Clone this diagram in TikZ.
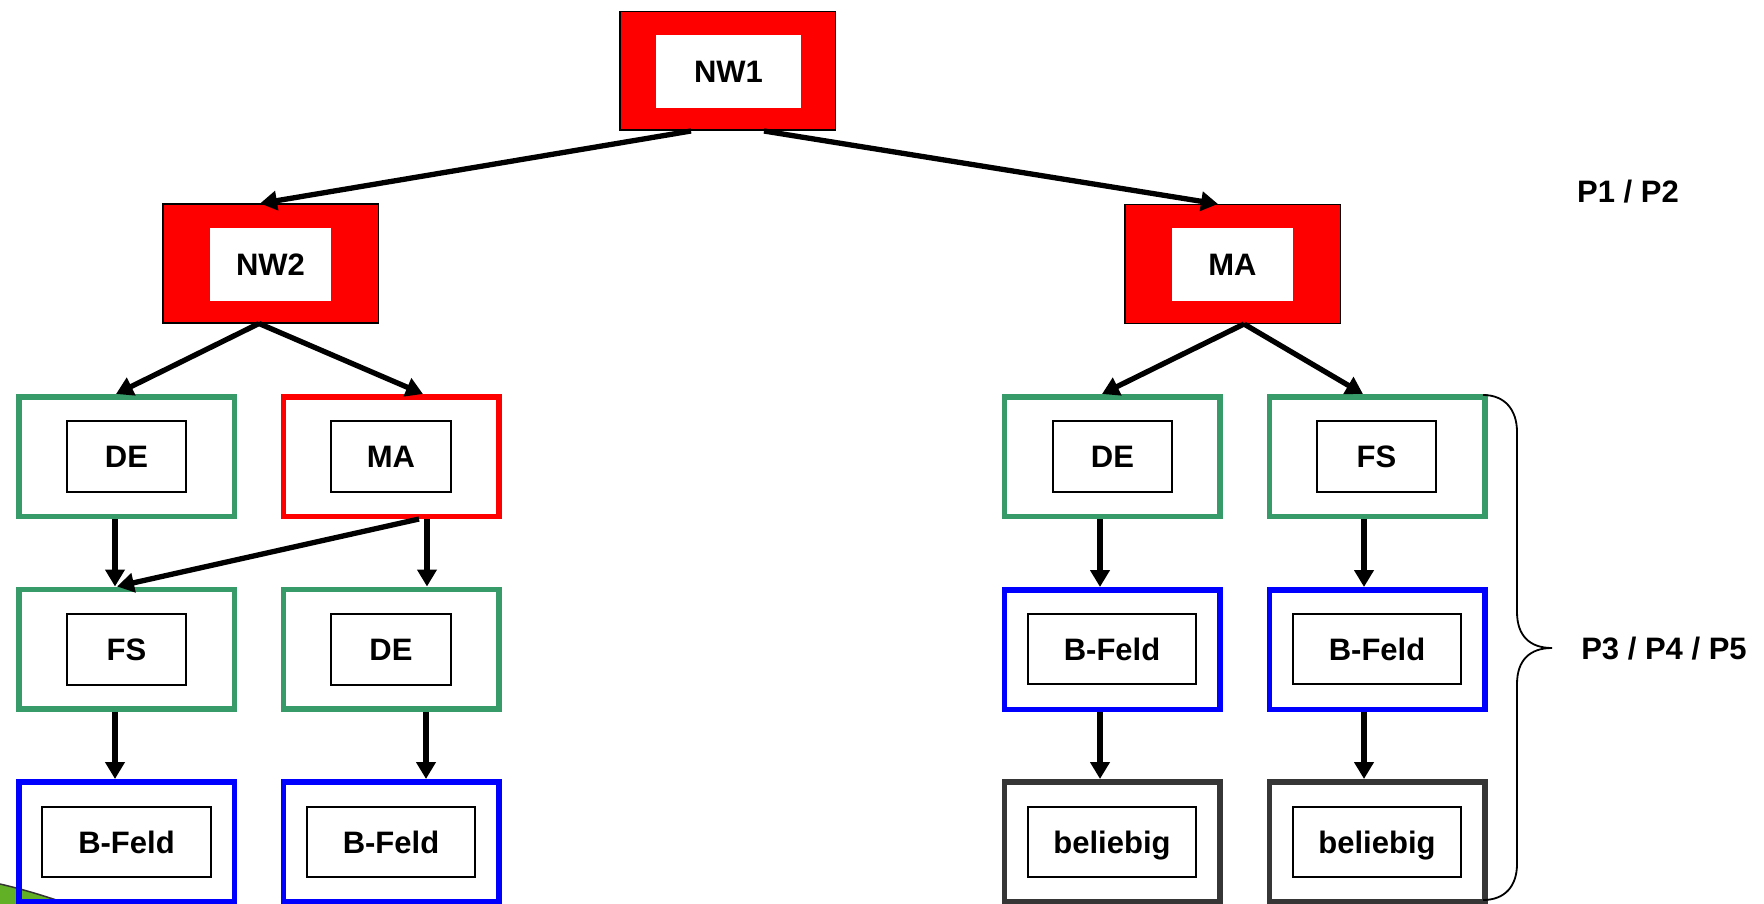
\documentclass[tikz,border=0pt]{standalone}
\usepackage{fontspec}
\setmainfont{Liberation Sans}
\usetikzlibrary{arrows.meta}
\definecolor{gborder}{RGB}{54,155,104}
\definecolor{bborder}{RGB}{0,0,255}
\definecolor{dborder}{RGB}{54,54,54}
\definecolor{leaf}{RGB}{98,176,38}
\tikzset{
  lab/.style={font=\bfseries\fontsize{31}{37}\selectfont, text height=22pt, text depth=0pt},
  redbox/.style={rectangle, fill=red, draw=black, line width=1.5pt, inner sep=0pt,
                 minimum width=215.5pt, minimum height=118.5pt},
  redin/.style={rectangle, fill=white, inner sep=0pt, minimum width=121pt, minimum height=73pt, lab},
  cbox/.style={rectangle, line width=5.5pt, inner sep=0pt, minimum width=215.5pt, minimum height=119.5pt},
  gbox/.style={cbox, draw=gborder},
  bbox/.style={cbox, draw=bborder},
  dbox/.style={cbox, draw=dborder},
  rbox/.style={cbox, draw=red},
  inbox/.style={rectangle, draw=black, fill=white, line width=1.6pt, inner sep=0pt,
                minimum width=119.5pt, minimum height=71.5pt, lab},
  winbox/.style={inbox, minimum width=168.5pt, minimum height=70.5pt},
  arr/.style={line width=5.3pt, -{Triangle[length=17pt,width=19pt]}},
  brace/.style={line width=1.8pt}
}
\begin{document}
\begin{tikzpicture}[x=1pt,y=-1pt]
\useasboundingbox (0,0) rectangle (1764,904);
% green corner decoration
\fill[leaf] (0,884) .. controls (22,889) and (45,896) .. (68,904) -- (0,904) -- cycle;
\draw[line width=1.5pt, black!80] (0,884) .. controls (22,889) and (45,896) .. (68,904);

% top level
\node[redbox] (NW1) at (727.5,71) {};
\node[redin, minimum width=145pt] (NW1t) at (728.5,71.5) {NW1};
\node[redbox] (NW2) at (270.5,263.5) {};
\node[redin] (NW2t) at (270.5,264.5) {NW2};
\node[redbox] (MAr) at (1232.5,264) {};
\node[redin] (MArt) at (1232.5,264.5) {MA};

% column 1
\node[gbox] (DE1) at (126.5,456.5) {};
\node[inbox] (DE1t) at (126.5,456.5) {DE};
\node[gbox] (FS1) at (126.5,649) {};
\node[inbox] (FS1t) at (126.5,649.5) {FS};
\node[bbox] (BF1) at (126.5,841.5) {};
\node[winbox] (BF1t) at (126.5,842) {B-Feld};

% column 2
\node[rbox] (MA1) at (391,456.5) {};
\node[inbox] (MA1t) at (391,456.5) {MA};
\node[gbox] (DE2) at (391,649) {};
\node[inbox] (DE2t) at (391,649.5) {DE};
\node[bbox] (BF2) at (391,841.5) {};
\node[winbox] (BF2t) at (391,842) {B-Feld};

% column 3
\node[gbox] (DE3) at (1112,456.5) {};
\node[inbox] (DE3t) at (1112.5,456.5) {DE};
\node[bbox] (BF3) at (1112,649.5) {};
\node[winbox] (BF3t) at (1112,649) {B-Feld};
\node[dbox] (BL3) at (1112,841.5) {};
\node[winbox] (BL3t) at (1112,842) {beliebig};

% column 4
\node[gbox] (FS4) at (1377,456.5) {};
\node[inbox] (FS4t) at (1376.5,456.5) {FS};
\node[bbox] (BF4) at (1377,649.5) {};
\node[winbox] (BF4t) at (1377,649) {B-Feld};
\node[dbox] (BL4) at (1377,841.5) {};
\node[winbox] (BL4t) at (1377,842) {beliebig};

% labels
\node[lab] (P12) at (1628,192) {P1 / P2};
\node[lab] (P345) at (1664,648.5) {P3 / P4 / P5};

% brace
\draw[brace] (1483,395) .. controls (1505,395) and (1517,410) .. (1517,432)
  -- (1517,612) .. controls (1517,636) and (1530,648) .. (1552,648)
  .. controls (1530,648) and (1517,660) .. (1517,684)
  -- (1517,864) .. controls (1517,886) and (1505,900) .. (1483,900);

% connectors
\draw[arr] ([xshift=-36.5pt]NW1.south) -- ([xshift=-10.5pt]NW2.north);
\draw[arr] ([xshift=36.5pt]NW1.south) -- ([xshift=-14.5pt]MAr.north);
\draw[arr] ([xshift=-11.5pt]NW2.south) -- ([xshift=-10.5pt]DE1.north);
\draw[arr] ([xshift=-11.5pt]NW2.south) -- ([xshift=32pt]MA1.north);
\draw[arr] ([xshift=11.5pt]MAr.south) -- ([xshift=-10pt]DE3.north);
\draw[arr] ([xshift=11.5pt]MAr.south) -- ([xshift=-14pt]FS4.north);
\draw[arr] ([xshift=-11.5pt]DE1.south) -- ([xshift=-11.5pt]FS1.north);
\draw[arr] ([xshift=28pt]MA1.south) -- ([xshift=-9.5pt]FS1.north);
\draw[arr] ([xshift=36pt]MA1.south) -- ([xshift=36pt]DE2.north);
\draw[arr] ([xshift=-11.5pt]FS1.south) -- ([xshift=-11.5pt]BF1.north);
\draw[arr] ([xshift=35pt]DE2.south) -- ([xshift=35pt]BF2.north);
\draw[arr] ([xshift=-12pt]DE3.south) -- ([xshift=-12pt]BF3.north);
\draw[arr] ([xshift=-13pt]FS4.south) -- ([xshift=-13pt]BF4.north);
\draw[arr] ([xshift=-12pt]BF3.south) -- ([xshift=-12pt]BL3.north);
\draw[arr] ([xshift=-13pt]BF4.south) -- ([xshift=-13pt]BL4.north);
\end{tikzpicture}
\end{document}
